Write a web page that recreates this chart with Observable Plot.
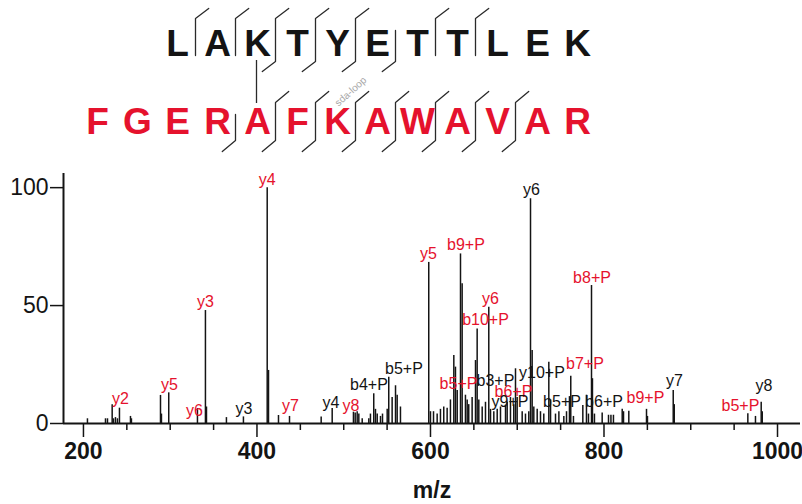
<!DOCTYPE html>
<html>
<head>
<meta charset="utf-8">
<script src="https://cdn.jsdelivr.net/npm/d3@7"></script>
<script src="https://cdn.jsdelivr.net/npm/@observablehq/plot@0.6"></script>
<style>
  html, body { margin: 0; padding: 0; background: #fff; }
  #chart { position: relative; width: 802px; height: 504px; overflow: hidden; }
  #chart svg { position: absolute; left: 0; }
</style>
</head>
<body>
<div id="chart"></div>
<script>
// ---- Cross-linked peptide pair ----
const alphaSeq = "LAKTYETTLEK";
const betaSeq = "FGERAFKAWAVAR";
const alphaOffset = 2;      // alpha residue 1 sits above beta residue 3
const alphaLinkSite = 3;    // K3 of alpha
const betaLinkSite = 5;     // A5 of beta
const betaLoopSite = 7;     // K7 of beta carries the sda loop
const loopLabel = "sda-loop";

// observed cleavages, given as the number of residues before the cut
const alphaUpperCuts = [1, 2, 3, 4, 5, 7, 8];
const alphaLowerCuts = [3, 4, 5, 6];
const betaUpperCuts = [5, 6, 7, 8, 9, 10, 11];
const betaLowerCuts = [4, 5, 6, 7, 8, 9, 10, 11];

// ---- MS/MS spectrum: centroid m/z and relative intensity (%) ----
const peakMz = [
  204.6, 225.4, 227.7, 233.1, 234.6, 236.9, 239.2, 241.5, 254.2, 255.3,
  288.8, 289.9, 298.3, 331.4, 340.6, 341.8, 364.8, 384.4, 411.8, 413.3,
  424.8, 437.5, 474.0, 486.7, 511.2, 513.2, 515.5, 517.4, 521.3, 528.9,
  530.8, 534.6, 536.6, 538.6, 542.4, 544.7, 550.1, 551.9, 555.8, 559.7,
  561.6, 565.4, 598.0, 600.0, 603.5, 607.7, 611.5, 615.3, 619.2, 623.0,
  626.9, 628.8, 630.8, 634.6, 636.5, 640.3, 642.3, 644.1, 648.0, 651.9,
  653.8, 655.7, 659.6, 663.4, 667.2, 669.2, 673.0, 676.9, 680.7, 686.5,
  688.4, 692.2, 696.0, 698.0, 699.9, 705.7, 709.5, 713.3, 715.3, 717.2,
  719.1, 723.0, 726.8, 730.6, 736.4, 738.4, 744.1, 748.0, 753.7, 756.8,
  760.2, 761.7, 764.8, 775.6, 779.8, 782.1, 785.6, 786.7, 789.0, 797.9,
  805.2, 808.0, 810.9, 821.0, 822.5, 828.6, 849.0, 850.1, 879.8, 881.0,
  965.8, 974.6, 981.2, 982.4
];
const peakInt = [
  2, 2, 2, 7.9, 2, 2.5, 2, 6.5, 3, 2,
  11.9, 4, 13, 6.3, 47.9, 7, 2.5, 2.8, 100, 22.5,
  3.4, 3, 2.8, 6.4, 4.8, 4.5, 5, 4, 2, 2,
  4, 12.6, 6, 4, 3, 4, 6, 19.6, 11, 16,
  12, 7, 68.3, 5, 5, 4, 6, 7, 6.5, 10,
  28.8, 23.9, 14, 71.9, 59.3, 12, 10, 8, 11, 26.7,
  40.1, 10, 7, 9, 49.3, 6, 5, 6, 7, 7.8,
  9, 11, 8, 23.2, 11, 5, 4, 5, 95.3, 31,
  7, 6, 5, 4, 26, 10, 4, 5, 3, 5,
  11.4, 20, 3, 7.6, 12, 4, 58.5, 19, 4, 4.4,
  3.5, 3.5, 3.5, 6, 5, 5.2, 6, 3, 14, 8,
  4.1, 3, 9, 5
];

// ---- Fragment annotations: chain, ion name, label anchor (m/z, %) ----
const ionChain = [
  "beta", "beta", "beta", "beta", "alpha", "beta", "beta", "alpha", "beta", "alpha",
  "alpha", "beta", "beta", "beta", "beta", "beta", "alpha", "beta", "alpha", "alpha",
  "alpha", "alpha", "beta", "beta", "alpha", "beta", "alpha", "beta", "alpha"
];
const ionName = [
  "y2", "y5", "y6", "y3", "y3", "y4", "y7", "y4", "y8", "b4+P",
  "b5+P", "y5", "b9+P", "y6", "b10+P", "b5+P", "b3+P", "b6+P", "y9+P", "y10+P",
  "y6", "b5+P", "b7+P", "b8+P", "b6+P", "b9+P", "y7", "b5+P", "y8"
];
const ionMz = [
  242.7, 299.1, 328.0, 340.6, 385.0, 411.8, 438.6, 485.3, 508.4, 529.1,
  569.4, 597.7, 640.9, 669.2, 663.4, 632.3, 674.9, 695.7, 691.6, 728.5,
  716.4, 751.6, 778.0, 786.2, 800.0, 847.8, 881.3, 957.3, 984.4
];
const ionInt = [
  8.1, 14.2, 3.0, 49.4, 4.2, 101.0, 5.1, 6.6, 5.5, 14.0,
  21.2, 69.6, 73.6, 50.6, 41.9, 14.8, 16.1, 11.4, 6.8, 19.1,
  97.0, 7.2, 23.3, 59.6, 7.2, 8.5, 15.7, 5.5, 13.8
];

// ---- shared styling ----
const RED = "#e5122d";
const INK = "#141414";
const FONT = "'Liberation Sans', Arial, Helvetica, sans-serif";
const chainColor = {domain: ["alpha", "beta"], range: [INK, RED]};

const chart = document.getElementById("chart");

// ================= Sequence header =================
const headerH = 150;
const alphaBase = 55, betaBase = 133;       // text baselines
const flagDx = 0.33;                          // flag reach, in residues
const rows = {
  alpha: {top: 18, bottom: 61, flag: 10},
  beta: {top: 102, bottom: 140, flag: 11}
};

const letters = [
  ...Array.from(alphaSeq, (aa, i) => ({aa, pos: i + alphaOffset, chain: "alpha", base: alphaBase})),
  ...Array.from(betaSeq, (aa, i) => ({aa, pos: i, chain: "beta", base: betaBase}))
];

function brackets(chain, offset, upper, lower) {
  const r = rows[chain];
  const cuts = Array.from(new Set([...upper, ...lower])).sort((a, b) => a - b);
  const pts = [];
  for (const k of cuts) {
    const x = offset + k - 0.5;
    const id = chain + k;
    const hasUp = upper.includes(k), hasLow = lower.includes(k);
    if (hasUp) pts.push({id, x: x + flagDx, y: r.top - r.flag});
    pts.push({id, x, y: hasUp ? r.top : r.top + 12});
    pts.push({id, x, y: hasLow ? r.bottom : r.bottom - 6});
    if (hasLow) pts.push({id, x: x - flagDx, y: r.bottom + r.flag});
  }
  return pts;
}
const bracketPts = [
  ...brackets("alpha", alphaOffset, alphaUpperCuts, alphaLowerCuts),
  ...brackets("beta", 0, betaUpperCuts, betaLowerCuts)
];
const linkPos = alphaOffset + alphaLinkSite - 1;

const header = Plot.plot({
  width: 802,
  height: headerH,
  x: {domain: [0, 12], range: [97, 577], axis: null},
  y: {domain: [0, headerH], range: [0, headerH], axis: null},
  color: chainColor,
  style: {fontFamily: FONT, background: "transparent", overflow: "visible"},
  marks: [
    Plot.line(bracketPts, {x: "x", y: "y", z: "id", stroke: "#2a2a2a", strokeWidth: 1.3, dx: -2, curve: "linear"}),
    Plot.ruleX([linkPos], {x: d => d, y1: rows.alpha.bottom - 1, y2: rows.beta.top + 1, stroke: "#2a2a2a", strokeWidth: 1.3, dx: -1}),
    Plot.text(letters, {x: "pos", y: "base", text: "aa", fill: "chain", fontSize: 37, fontWeight: "bold", lineAnchor: "bottom", textAnchor: "middle"}),
    Plot.text([loopLabel], {x: betaLoopSite - 1 + 0.33, y: 91, text: d => d, rotate: -42, fontSize: 10, fill: "#a8a8a8", textAnchor: "middle", lineAnchor: "middle"})
  ]
});
header.style.top = "0px";
chart.appendChild(header);

// ================= Spectrum =================
const peaks = peakMz.map((mz, i) => ({mz, intensity: peakInt[i]}));
const ions = ionName.map((name, i) => ({name, chain: ionChain[i], mz: ionMz[i], intensity: ionInt[i]}));
const xMin = 177, xMax = 1026.5, yMax = 106;
const majorTicks = [200, 400, 600, 800, 1000];
const minorTicks = d3.range(200, 1001, 50).filter(t => !majorTicks.includes(t));

const spectrum = Plot.plot({
  width: 802,
  height: 354,
  marginTop: 23,
  marginBottom: 81,
  marginLeft: 63,
  marginRight: 2,
  x: {domain: [xMin, xMax], label: null},
  y: {domain: [0, yMax], label: null},
  color: chainColor,
  style: {fontFamily: FONT, background: "transparent", overflow: "visible", color: INK},
  marks: [
    Plot.ruleX(peaks, {x: "mz", y1: 0, y2: "intensity", stroke: INK, strokeWidth: 1.5}),
    Plot.axisX({ticks: minorTicks, tickSize: 7, tickFormat: () => "", strokeWidth: 1.5, label: null}),
    Plot.axisX({ticks: majorTicks, tickSize: 14, tickPadding: 5, tickFormat: d => String(d), fontSize: 23, fontWeight: "bold", strokeWidth: 1.5, label: null}),
    Plot.axisY({ticks: [0, 50, 100], tickSize: 13, tickPadding: 2, tickFormat: d => String(d), fontSize: 23, strokeWidth: 1.5, label: null}),
    Plot.ruleY([0], {stroke: INK, strokeWidth: 2}),
    Plot.ruleX([xMin], {y1: 0, y2: yMax, stroke: INK, strokeWidth: 2}),
    Plot.text(ions, {x: "mz", y: "intensity", text: "name", fill: "chain", fontSize: 16, lineAnchor: "bottom", textAnchor: "middle"}),
    Plot.text(["m/z"], {frameAnchor: "bottom", text: d => d, dy: 74, fontSize: 23, fontWeight: "bold", lineAnchor: "bottom", fill: INK})
  ]
});
spectrum.style.top = "150px";
chart.appendChild(spectrum);
</script>
</body>
</html>
